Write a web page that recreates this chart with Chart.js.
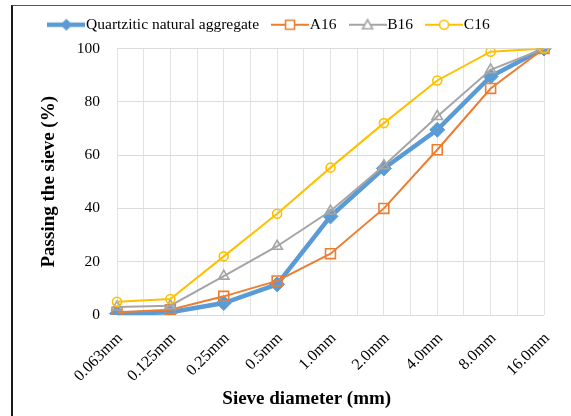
<!DOCTYPE html>
<html>
<head>
<meta charset="utf-8">
<script src="https://cdn.jsdelivr.net/npm/chart.js@4.4.1/dist/chart.umd.min.js"></script>
<style>
  html, body { margin: 0; padding: 0; background: #fff; }
  #wrap { position: relative; width: 571px; height: 416px; }
  #frame { position: absolute; left: 11px; top: 5px; right: 0; bottom: 0;
           border-left: 2px solid #1a1a1a; border-top: 1px solid #555; pointer-events: none; }
</style>
</head>
<body>
<div id="wrap">
  <canvas id="chart" width="571" height="416"></canvas>
  <div id="frame"></div>
</div>
<script>
// sieve sizes
const sieves = ['0.063mm', '0.125mm', '0.25mm', '0.5mm', '1.0mm', '2.0mm', '4.0mm', '8.0mm', '16.0mm'];
// passing (%) per series
const quartzitic = [0.5, 1, 4.5, 11.5, 37, 55, 69.5, 89.5, 100];
const a16 = [1, 2, 7, 12.8, 23, 40, 62, 85, 100];
const b16 = [3, 3.5, 14.6, 25.8, 39, 56, 74.5, 92, 100];
const c16 = [5, 6, 22, 38, 55.3, 72, 88, 98.8, 100];
const yTicks = [0, 20, 40, 60, 80, 100];

const serif = "'Liberation Serif', 'Times New Roman', serif";

// small legend icon: line with the marker on it
function legendIcon(color, width, style, r) {
  const c = document.createElement('canvas');
  c.width = 38; c.height = 16;
  const ctx = c.getContext('2d');
  ctx.strokeStyle = color;
  ctx.lineWidth = width;
  ctx.beginPath(); ctx.moveTo(0, 8); ctx.lineTo(38, 8); ctx.stroke();
  ctx.lineWidth = 1.6;
  ctx.beginPath();
  if (style === 'diamond') {
    ctx.moveTo(19, 8 - r); ctx.lineTo(19 + r, 8); ctx.lineTo(19, 8 + r); ctx.lineTo(19 - r, 8); ctx.closePath();
    ctx.fillStyle = color; ctx.fill();
  } else {
    ctx.fillStyle = '#fff';
    if (style === 'square') ctx.rect(19 - r, 8 - r, 2 * r, 2 * r);
    if (style === 'triangle') { ctx.moveTo(19, 8 - r); ctx.lineTo(19 + r, 8 + r * 0.8); ctx.lineTo(19 - r, 8 + r * 0.8); ctx.closePath(); }
    if (style === 'circle') ctx.arc(19, 8, r, 0, Math.PI * 2);
    ctx.fill(); ctx.stroke();
  }
  return c;
}

const icons = [
  legendIcon('#5B9BD5', 4.5, 'diamond', 6),
  legendIcon('#ED7D31', 2, 'square', 4.5),
  legendIcon('#A5A5A5', 2, 'triangle', 5),
  legendIcon('#FFC000', 2, 'circle', 4.5)
];

// a bit more room between the legend and the plot
const legendGap = {
  id: 'legendGap',
  beforeInit(chart) {
    const fit = chart.legend.fit;
    chart.legend.fit = function () {
      fit.call(this);
      this.height += 6;
    };
  }
};

new Chart(document.getElementById('chart'), {
  type: 'line',
  data: {
    labels: sieves,
    datasets: [{
      label: 'Quartzitic natural aggregate',
      data: quartzitic,
      borderColor: '#5B9BD5',
      backgroundColor: '#5B9BD5',
      borderWidth: 4.5,
      pointStyle: 'rectRot',
      pointRadius: 7.5,
      pointBorderWidth: 1,
      order: 4
    }, {
      label: 'A16',
      data: a16,
      borderColor: '#ED7D31',
      backgroundColor: 'rgba(255,255,255,0)',
      borderWidth: 2,
      pointStyle: 'rect',
      pointRadius: 7,
      pointBorderWidth: 1.6,
      order: 3
    }, {
      label: 'B16',
      data: b16,
      borderColor: '#A5A5A5',
      backgroundColor: 'rgba(255,255,255,0)',
      borderWidth: 2,
      pointStyle: 'triangle',
      pointRadius: 6,
      pointBorderWidth: 1.6,
      order: 2
    }, {
      label: 'C16',
      data: c16,
      borderColor: '#FFC000',
      backgroundColor: 'rgba(255,255,255,0)',
      borderWidth: 2,
      pointStyle: 'circle',
      pointRadius: 4.5,
      pointBorderWidth: 1.6,
      order: 1
    }]
  },
  plugins: [legendGap],
  options: {
    responsive: false,
    animation: false,
    layout: { padding: { left: 0, right: 27, top: -2, bottom: 6 } },
    plugins: {
      tooltip: { enabled: false },
      legend: {
        position: 'top',
        labels: {
          font: { family: serif, size: 15.5 },
          color: '#000',
          usePointStyle: true,
          pointStyleWidth: 24,
          padding: 19,
          sort: (a, b) => a.datasetIndex - b.datasetIndex,
          generateLabels: chart => chart.data.datasets.map((ds, i) => ({
            text: ds.label,
            pointStyle: icons[i],
            fillStyle: ds.borderColor,
            strokeStyle: ds.borderColor,
            lineWidth: 0,
            fontColor: '#000',
            hidden: false,
            datasetIndex: i
          }))
        }
      }
    },
    scales: {
      x: {
        type: 'category',
        offset: false,
        grid: { display: false },
        border: { display: false },
        afterFit: scale => { scale.height = 95; },
        ticks: {
          font: { family: serif, size: 16 },
          color: '#000',
          minRotation: 45,
          maxRotation: 45,
          autoSkip: false,
          padding: 6,
          labelOffset: 3
        },
        title: {
          display: true,
          // trailing spaces pull the title left like the original
          text: 'Sieve diameter (mm)' + '\u00a0'.repeat(10),
          font: { family: serif, size: 19, weight: 'bold' },
          color: '#000',
          padding: { top: 0, bottom: 0 }
        }
      },
      // half-step vertical grid like the original
      xg: {
        type: 'linear',
        position: 'bottom',
        min: 0,
        max: sieves.length - 1,
        display: true,
        afterFit: scale => { scale.height = 0; },
        ticks: { display: false, stepSize: 0.5 },
        grid: { color: '#e3e3e3', lineWidth: 1, drawTicks: false },
        border: { display: false }
      },
      y: {
        min: 0,
        max: 100,
        afterBuildTicks: axis => { axis.ticks = yTicks.map(v => ({ value: v })); },
        afterFit: scale => { scale.width = 117; },
        grid: { color: '#dcdcdc', drawTicks: false },
        border: { display: false },
        ticks: {
          font: { family: serif, size: 15.5 },
          color: '#000',
          padding: 17
        },
        title: {
          display: true,
          text: 'Passing the sieve (%)',
          font: { family: serif, size: 19, weight: 'bold' },
          color: '#000',
          padding: { top: 38, bottom: 8 }
        }
      }
    }
  }
});
</script>
</body>
</html>
